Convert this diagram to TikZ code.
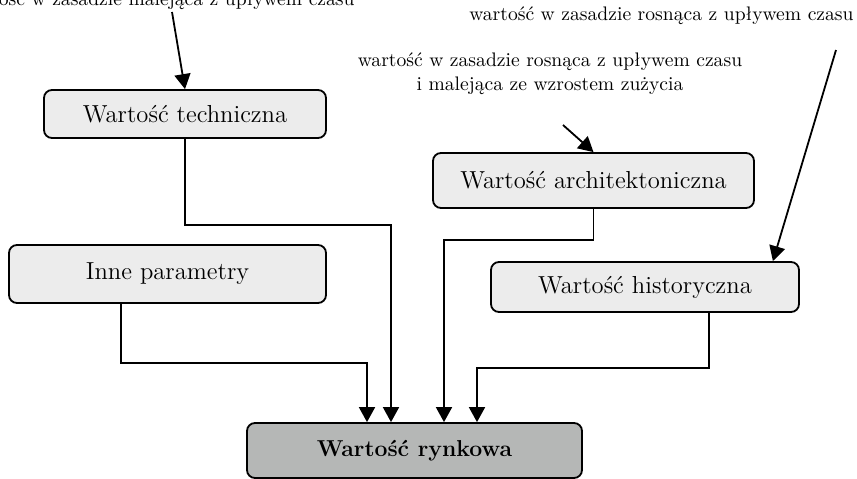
\documentclass[tikz,border=0pt]{standalone}
\usepackage{fontspec}
\usetikzlibrary{arrows.meta}
\definecolor{boxgray}{RGB}{236,236,236}
\definecolor{marketgray}{RGB}{181,183,182}

\begin{document}
\begin{tikzpicture}[x=0.5pt,y=-0.5pt,
    valuebox/.style={draw, line width=0.9pt, rounded corners=4pt, fill=boxgray, inner sep=0pt, font=\fontsize{12.3}{14}\selectfont},
    flow/.style={line width=0.9pt, -{Triangle[width=8pt,length=7.5pt]}},
    note/.style={inner sep=0pt, font=\fontsize{9.8}{12}\selectfont}]
    \useasboundingbox (0,0) rectangle (857,478);

    % Value boxes
    \node[valuebox, minimum width=141pt, minimum height=24pt] (tech) at (185,114) {Wartość techniczna};
    \node[valuebox, minimum width=160.5pt, minimum height=27.5pt] (arch) at (593.5,180.5) {Wartość architektoniczna};
    \node[valuebox, minimum width=158.5pt, minimum height=29pt] (inne) at (167.5,274) {Inne parametry};
    \node[valuebox, minimum width=154pt, minimum height=25pt] (hist) at (645,287) {Wartość historyczna};
    \node[valuebox, fill=marketgray, minimum width=167.5pt, minimum height=27.5pt, font=\fontsize{11.5}{14}\selectfont\bfseries] (rynek) at (414.5,450.5) {Wartość rynkowa};

    % Notes
    \node[note, anchor=base east] (noteT) at (355,5) {wartość w zasadzie malejąca z upływem czasu};
    \node[note, anchor=base east] (noteH) at (854,20) {wartość w zasadzie rosnąca z upływem czasu};
    \node[note, align=center, anchor=north] (noteA) at (550,52.5) {wartość w zasadzie rosnąca z upływem czasu\\ i malejąca ze wzrostem zużycia};

    % Annotation arrows
    \coordinate (t0) at (172,12);
    \coordinate (a0) at (563,125);
    \coordinate (h0) at (836,50);
    \draw[flow] (t0) -- (tech.north);
    \draw[flow] (a0) -- (arch.north);
    \draw[flow] (h0) -- ([xshift=-13.5pt]hist.north east);

    % Inputs of market value
    \draw[flow] ([xshift=-23.25pt]inne.south) -- ++(0,59) -| ([xshift=-23.75pt]rynek.north);
    \draw[flow] (tech.south) -- ++(0,86) -| ([xshift=-11.75pt]rynek.north);
    \draw[flow] (arch.south) -- ++(0,31) -| ([xshift=14.75pt]rynek.north);
    \draw[flow] ([xshift=32pt]hist.south) -- ++(0,55) -| ([xshift=31.25pt]rynek.north);
\end{tikzpicture}
\end{document}
